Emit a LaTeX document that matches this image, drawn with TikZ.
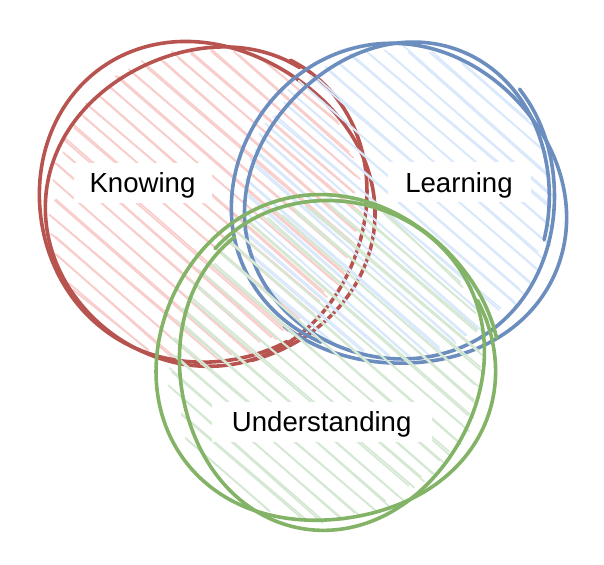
\documentclass[tikz,border=0pt]{standalone}
\usepackage{fontspec}
\setmainfont{Liberation Sans}
\definecolor{redstroke}{HTML}{B85450}
\definecolor{redfill}{HTML}{F8CECC}
\definecolor{bluestroke}{HTML}{6C8EBF}
\definecolor{bluefill}{HTML}{DAE8FC}
\definecolor{greenstroke}{HTML}{82B366}
\definecolor{greenfill}{HTML}{D5E8D4}

% One freehand pass around an ellipse.
% #1 style, #2 cx, #3 cy, #4 rx, #5 ry, #6 start angle, #7 sweep, #8 radial wobble in \t
\newcommand\freehandpass[8]{%
  \pgfmathsetmacro\fhEnd{#6+#7}%
  \draw[#1] plot[smooth, tension=0.6, samples=80, domain=#6:\fhEnd, variable=\t]
    ({#2+(#4+#8)*cos(\t)}, {#3+(#5+#8)*sin(\t)});
}

% Hachure fill of a disc: doubled diagonal strokes with jittered ends.
% #1 style, #2 cx, #3 cy, #4 radius
\newcommand\hachure[4]{%
  \foreach \k in {-162,-148.5,...,162}{%
    \pgfmathsetmacro\hL{#4*sqrt(max(1-(\k/#4)*(\k/#4),0))}%
    \ifdim\hL pt>10pt
      \pgfmathsetmacro\hA{\hL-6+6*rand}%
      \pgfmathsetmacro\hB{\hL-6+6*rand}%
      \pgfmathsetmacro\hC{1.5*rand}%
      \pgfmathsetmacro\hD{1.5*rand}%
      \draw[#1] ({#2-0.656*(\k+\hC)-\hA*0.755},{#3+0.755*(\k+\hC)-\hA*0.656})
             -- ({#2-0.656*(\k+\hD)+\hB*0.755},{#3+0.755*(\k+\hD)+\hB*0.656});
      \pgfmathsetmacro\hA{\hL-6+6*rand}%
      \pgfmathsetmacro\hB{\hL-6+6*rand}%
      \pgfmathsetmacro\hC{\hC+2.5*rand}%
      \pgfmathsetmacro\hD{\hD+2.5*rand}%
      \draw[#1] ({#2-0.656*(\k+\hC)-\hA*0.755},{#3+0.755*(\k+\hC)-\hA*0.656})
             -- ({#2-0.656*(\k+\hD)+\hB*0.755},{#3+0.755*(\k+\hD)+\hB*0.656});
    \fi}%
}

\begin{document}
\begin{tikzpicture}[x=1pt, y=-1pt,
  stroke/.style={line width=3.6pt, line cap=round, line join=round},
  hatchline/.style={line width=1.7pt, line cap=round},
  vennlabel/.style={fill=white, inner xsep=0pt, inner ysep=0pt,
    text height=30pt, text depth=10pt, font=\fontsize{27.6}{33}\selectfont}]
\useasboundingbox (0,0) rectangle (604,564);
\pgfmathsetseed{11}

% Knowing (red)
\hachure{hatchline, draw=redfill}{205}{205}{158}
\freehandpass{stroke, draw=redstroke}{203}{204}{163}{160}{59}{374}{5*sin(2*\t+20)+3*sin(3*\t+80)+5*(\t-59)/374}
\freehandpass{stroke, draw=redstroke}{208}{205}{160}{162}{300}{364}{4*sin(2*\t+160)+3*sin(3*\t+240)-2*(\t-300)/364}

% Learning (blue)
\hachure{hatchline, draw=bluefill}{398}{203}{158}
\freehandpass{stroke, draw=bluestroke}{397}{205}{161}{161}{119}{374}{5*sin(2*\t+60)+3*sin(3*\t+10)+5*(\t-119)/374}
\freehandpass{stroke, draw=bluestroke}{401}{201}{158}{160}{317}{418}{4*sin(2*\t+200)+3*sin(3*\t+300)-6*(\t-317)/418}

% Understanding (green)
\hachure{hatchline, draw=greenfill}{326}{362}{160}
\freehandpass{stroke, draw=greenstroke}{325}{362}{164}{164}{338}{374}{4*sin(2*\t+90)+4*sin(3*\t+30)+5*(\t-338)/374}
\freehandpass{stroke, draw=greenstroke}{329}{364}{160}{162}{225}{368}{5*sin(2*\t+250)+3*sin(3*\t+150)-5*(\t-225)/368}

% Labels
\node[vennlabel, minimum width=138pt] (knowing) at (142.5,182.7) {Knowing};
\node[vennlabel, minimum width=143pt] (learning) at (459,182) {Learning};
\node[vennlabel, minimum width=220pt] (understanding) at (321.7,421.7) {Understanding};
\end{tikzpicture}
\end{document}
